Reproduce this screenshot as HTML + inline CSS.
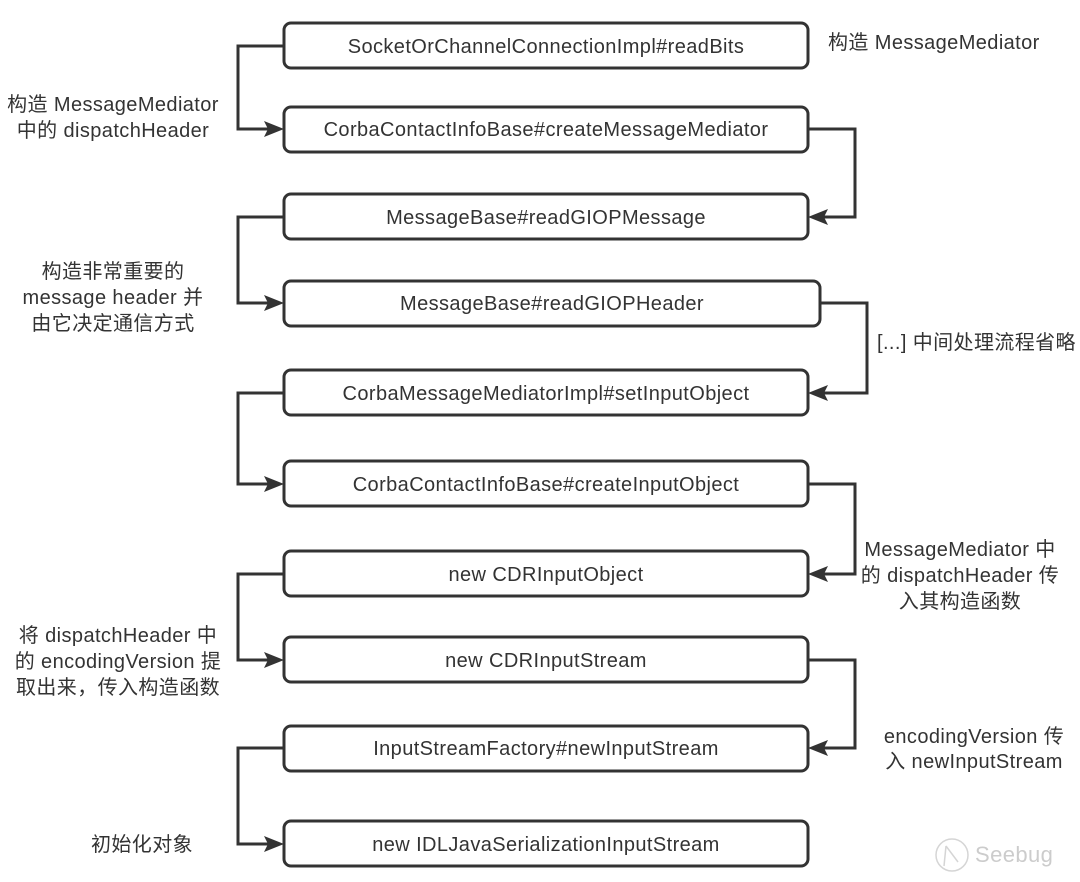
<!DOCTYPE html>
<html><head><meta charset="utf-8"><style>
html,body{margin:0;padding:0;background:#fff;}
svg{display:block;}
text{font-family:"Liberation Sans","Noto Sans CJK SC",sans-serif;fill:#333;font-size:20px;letter-spacing:0.4px;}
</style></head><body>
<svg width="1080" height="882" viewBox="0 0 1080 882" xmlns="http://www.w3.org/2000/svg">
<g fill="none" stroke="#333" stroke-width="3">
<rect x="284" y="23" width="524" height="45" rx="7"/>
<rect x="284" y="107" width="524" height="45" rx="7"/>
<rect x="284" y="194" width="524" height="45" rx="7"/>
<rect x="284" y="281" width="536" height="45" rx="7"/>
<rect x="284" y="370" width="524" height="45" rx="7"/>
<rect x="284" y="461" width="524" height="45" rx="7"/>
<rect x="284" y="551" width="524" height="45" rx="7"/>
<rect x="284" y="637" width="524" height="45" rx="7"/>
<rect x="284" y="726" width="524" height="45" rx="7"/>
<rect x="284" y="821" width="524" height="45" rx="7"/>
</g>
<g fill="none" stroke="#333" stroke-width="3">
<path d="M284,46 H238 V129 H272"/>
<path d="M808,129 H855 V217 H820"/>
<path d="M284,217 H238 V303 H272"/>
<path d="M820,303 H867 V393 H820"/>
<path d="M284,393 H238 V484 H272"/>
<path d="M808,484 H855 V574 H820"/>
<path d="M284,574 H238 V660 H272"/>
<path d="M808,660 H855 V748 H820"/>
<path d="M284,748 H238 V844 H272"/>
</g>
<g fill="#333">
<path d="M284,129 L264,121 L268,129 L264,137 z"/>
<path d="M808,217 L828,209 L824,217 L828,225 z"/>
<path d="M284,303 L264,295 L268,303 L264,311 z"/>
<path d="M808,393 L828,385 L824,393 L828,401 z"/>
<path d="M284,484 L264,476 L268,484 L264,492 z"/>
<path d="M808,574 L828,566 L824,574 L828,582 z"/>
<path d="M284,660 L264,652 L268,660 L264,668 z"/>
<path d="M808,748 L828,740 L824,748 L828,756 z"/>
<path d="M284,844 L264,836 L268,844 L264,852 z"/>
</g>
<g text-anchor="middle">
<text x="546" y="53">SocketOrChannelConnectionImpl#readBits</text>
<text x="546" y="136">CorbaContactInfoBase#createMessageMediator</text>
<text x="546" y="224">MessageBase#readGIOPMessage</text>
<text x="552" y="310">MessageBase#readGIOPHeader</text>
<text x="546" y="400">CorbaMessageMediatorImpl#setInputObject</text>
<text x="546" y="491">CorbaContactInfoBase#createInputObject</text>
<text x="546" y="581">new CDRInputObject</text>
<text x="546" y="667">new CDRInputStream</text>
<text x="546" y="755">InputStreamFactory#newInputStream</text>
<text x="546" y="851">new IDLJavaSerializationInputStream</text>
</g>
<text x="828" y="49">构造 MessageMediator</text>
<g text-anchor="middle">
<text x="113" y="111">构造 MessageMediator</text>
<text x="113" y="137">中的 dispatchHeader</text>
<text x="113" y="278">构造非常重要的</text>
<text x="113" y="304">message header 并</text>
<text x="113" y="330">由它决定通信方式</text>
<text x="118" y="642">将 dispatchHeader 中</text>
<text x="118" y="668">的 encodingVersion 提</text>
<text x="118" y="694">取出来，传入构造函数</text>
<text x="142" y="851">初始化对象</text>
<text x="960" y="556">MessageMediator 中</text>
<text x="960" y="582">的 dispatchHeader 传</text>
<text x="960" y="608">入其构造函数</text>
<text x="974" y="743">encodingVersion 传</text>
<text x="974" y="768">入 newInputStream</text>
</g>
<text x="877" y="349">[...] 中间处理流程省略</text>
<g opacity="0.35" fill="none" stroke="#888" stroke-width="1.5">
<circle cx="952" cy="855" r="16"/>
<path d="M946,846 L958,862 M946,846 L944,866"/>
</g>
<text x="975" y="862" style="font-size:22px;fill:#ccc">Seebug</text>
</svg>
</body></html>
